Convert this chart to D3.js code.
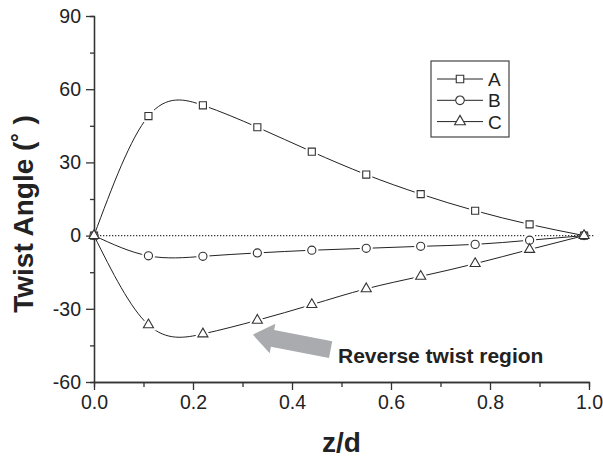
<!DOCTYPE html>
<html>
<head>
<meta charset="utf-8">
<script src="https://cdn.jsdelivr.net/npm/d3@7"></script>
<style>
  body { margin: 0; background: #fff; }
  text { font-family: "Liberation Sans", Arial, sans-serif; }
</style>
</head>
<body>
<div id="chart"></div>
<script>
// data
var zd = [0, 0.11, 0.22, 0.33, 0.44, 0.55, 0.66, 0.77, 0.88, 0.99];
var seriesA = [0, 49, 53.4, 44.4, 34.4, 25, 17, 10.2, 4.6, 0];
var seriesB = [0, -8.3, -8.5, -7.1, -6, -5.2, -4.4, -3.6, -1.9, 0];
var seriesC = [0, -36.6, -40.3, -34.7, -28.3, -21.8, -16.7, -11.5, -5.7, 0];
var seriesNames = ["A", "B", "C"];
var xTicks = [0, 0.2, 0.4, 0.6, 0.8, 1.0];
var xMinor = [0.1, 0.3, 0.5, 0.7, 0.9];
var yTicks = [-60, -30, 0, 30, 60, 90];
var yMinor = [-45, -15, 15, 45, 75];
var arrowTip = [0.321, -40.6];
var arrowTail = [0.478, -46.7];
var noteText = "Reverse twist region";

var margin = {top: 16, right: 14, bottom: 76, left: 94};
var width = 603 - margin.left - margin.right;
var height = 458 - margin.top - margin.bottom;

var svg = d3.select("#chart").append("svg")
    .attr("width", 603)
    .attr("height", 458);
var g = svg.append("g")
    .attr("transform", "translate(" + margin.left + "," + margin.top + ")");

var x = d3.scaleLinear().domain([0, 1]).range([0, width]);
var y = d3.scaleLinear().domain([-60, 90]).range([height, 0]);

var inkLine = "#222";
var inkAxis = "#333";

// zero reference line
g.append("line")
    .attr("x1", x(0)).attr("x2", x(1.01))
    .attr("y1", y(0)).attr("y2", y(0))
    .attr("stroke", "#333")
    .attr("stroke-width", 1.3)
    .attr("stroke-dasharray", "1.3,1.7");

// curves
var line = d3.line()
    .x(function(d) { return x(d[0]); })
    .y(function(d) { return y(d[1]); })
    .curve(d3.curveNatural);

var series = [seriesA, seriesB, seriesC].map(function(vals, i) {
    return {name: seriesNames[i], pts: zd.map(function(z, j) { return [z, vals[j]]; })};
});
var symbols = [d3.symbolSquare, d3.symbolCircle, d3.symbolTriangle];
var symSize = [50, 52, 44];

series.forEach(function(s) {
    g.append("path")
        .datum(s.pts)
        .attr("d", line)
        .attr("fill", "none")
        .attr("stroke", inkLine)
        .attr("stroke-width", 1);
});

// white halos so the lines stop short of the markers
series.forEach(function(s, i) {
    g.selectAll(".halo" + i)
        .data(s.pts.slice(1, s.pts.length - 1))
        .enter().append("path")
        .attr("transform", function(d) { return "translate(" + x(d[0]) + "," + y(d[1]) + ")"; })
        .attr("d", d3.symbol().type(symbols[i]).size(symSize[i]))
        .attr("fill", "#fff")
        .attr("stroke", "#fff")
        .attr("stroke-width", 5);
});

// axes (plain hyphen for negatives, like the original)
var fmtInt = function(d) { return String(d); };
var yAxis = d3.axisLeft(y).tickValues(yTicks).tickSize(8).tickSizeOuter(0).tickPadding(5)
    .tickFormat(fmtInt);
var yAxisMinor = d3.axisLeft(y).tickValues(yMinor).tickSize(4).tickFormat("");
var xAxis = d3.axisBottom(x).tickValues(xTicks).tickSize(8).tickSizeOuter(0).tickPadding(5)
    .tickFormat(function(d) { return d.toFixed(1); });
var xAxisMinor = d3.axisBottom(x).tickValues(xMinor).tickSize(5).tickFormat("");

g.append("g").attr("class", "axis").call(yAxis);
g.append("g").attr("class", "axis").call(yAxisMinor);
g.append("g").attr("class", "axis").attr("transform", "translate(0," + height + ")").call(xAxis);
g.append("g").attr("class", "axis").attr("transform", "translate(0," + height + ")").call(xAxisMinor);

g.selectAll(".axis path, .axis line").attr("stroke", inkAxis).attr("stroke-width", 1.3);
g.selectAll(".axis text")
    .attr("fill", "#222")
    .style("font-size", "19.5px")
    .style("font-family", "'Liberation Sans', Arial, sans-serif");

// markers
series.forEach(function(s, i) {
    g.selectAll(".mark" + i)
        .data(s.pts)
        .enter().append("path")
        .attr("transform", function(d) { return "translate(" + x(d[0]) + "," + y(d[1]) + ")"; })
        .attr("d", d3.symbol().type(symbols[i]).size(symSize[i]))
        .attr("fill", "#fff")
        .attr("stroke", "#333")
        .attr("stroke-width", 1.1);
});

// axis titles
svg.append("text")
    .attr("transform", "translate(33," + 214 + ") rotate(-90)")
    .attr("text-anchor", "middle")
    .style("font-size", "28px")
    .style("font-weight", "bold")
    .attr("fill", "#222")
    .text("Twist Angle (˚ )");

svg.append("text")
    .attr("x", margin.left + width / 2)
    .attr("y", 452)
    .attr("text-anchor", "middle")
    .style("font-size", "28px")
    .style("font-weight", "bold")
    .attr("fill", "#222")
    .text("z/d");

// annotation arrow
var tip = [x(arrowTip[0]), y(arrowTip[1])];
var tail = [x(arrowTail[0]), y(arrowTail[1])];
var len = Math.hypot(tail[0] - tip[0], tail[1] - tip[1]);
var ang = Math.atan2(tail[1] - tip[1], tail[0] - tip[0]) * 180 / Math.PI;
var headL = 20, headW = 15, shaftW = 8.5;
g.append("polygon")
    .attr("transform", "translate(" + tip[0] + "," + tip[1] + ") rotate(" + ang + ")")
    .attr("points", [[0, 0], [headL, -headW], [headL, -shaftW], [len, -shaftW],
                     [len, shaftW], [headL, shaftW], [headL, headW]].join(" "))
    .attr("fill", "#a9abae");

svg.append("text")
    .attr("x", 338)
    .attr("y", 363)
    .style("font-size", "21px")
    .style("font-weight", "bold")
    .attr("fill", "#222")
    .text(noteText);

// legend
var legend = svg.append("g").attr("transform", "translate(431,61)");
legend.append("rect")
    .attr("width", 78).attr("height", 76)
    .attr("fill", "#fff")
    .attr("stroke", "#444")
    .attr("stroke-width", 1.2);
seriesNames.forEach(function(name, i) {
    var ly = 18 + i * 21.3;
    legend.append("line")
        .attr("x1", 6).attr("x2", 52)
        .attr("y1", ly).attr("y2", ly)
        .attr("stroke", inkLine);
    legend.append("path")
        .attr("transform", "translate(29," + ly + ")")
        .attr("d", d3.symbol().type(symbols[i]).size(symSize[i] + 6))
        .attr("fill", "#fff")
        .attr("stroke", "#333")
        .attr("stroke-width", 1.1);
    legend.append("text")
        .attr("x", 57)
        .attr("y", ly + 7)
        .style("font-size", "19px")
        .attr("fill", "#222")
        .text(name);
});
</script>
</body>
</html>
